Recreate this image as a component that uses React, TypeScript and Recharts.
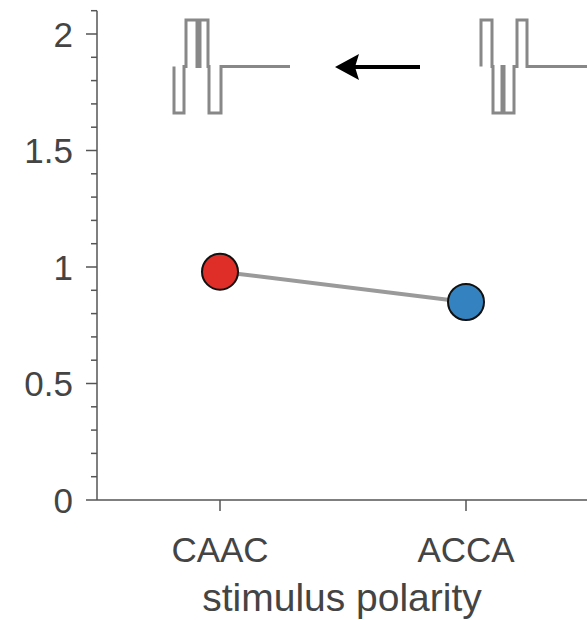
import { ComposedChart, LineChart, Line, XAxis, YAxis } from "recharts";

const polarities = ["CAAC", "ACCA"];
const ratio = [0.98, 0.85];

const yTicks = [0, 0.1, 0.2, 0.3, 0.4, 0.5, 0.6, 0.7, 0.8, 0.9, 1, 1.1, 1.2, 1.3, 1.4, 1.5, 1.6, 1.7, 1.8, 1.9, 2, 2.1];
const yLabels = [0, 0.5, 1, 1.5, 2];

// stimulus waveform sketches: time (arb. units) and phase sign
const caacTime = [0, 0, 10, 10, 12, 12, 23, 23, 26, 26, 34, 34, 35, 35, 47, 47, 116];
const caacLevel = [0, -1, -1, 0, 0, 1, 1, 0, 0, 1, 1, 0, 0, -1, -1, 0, 0];
const accaTime = [0, 0, 11, 11, 12, 12, 21, 21, 23, 23, 33, 33, 36, 36, 46, 46, 110];
const accaLevel = [0, 1, 1, 0, 0, -1, -1, 0, 0, -1, -1, 0, 0, 1, 1, 0, 0];

const dotColors = ["#df2e28", "#3483c0"];
const axisColor = "#555";
const textColor = "#444";

const data = polarities.map((p, i) => ({ polarity: p, ratio: ratio[i] }));
const caacData = caacTime.map((t, i) => ({ t, v: caacLevel[i] }));
const accaData = accaTime.map((t, i) => ({ t, v: accaLevel[i] }));

const YTick = (props: any) => {
  const { x, y, payload } = props;
  const major = yLabels.includes(payload.value);
  return (
    <g>
      <line x1={x - (major ? 11 : 6)} x2={x} y1={y} y2={y} stroke={axisColor} strokeWidth={1.5} />
      {major && (
        <text x={x - 24} y={y} dy="0.36em" textAnchor="end" fontSize={35} fill={textColor}>
          {payload.value}
        </text>
      )}
    </g>
  );
};

const Dot = (props: any) => {
  const { cx, cy, index } = props;
  return <circle key={index} cx={cx} cy={cy} r={18} fill={dotColors[index]} stroke="#111" strokeWidth={2} />;
};

const Waveform = ({ points, left, span }: { points: { t: number; v: number }[]; left: number; span: number }) => (
  <div style={{ position: "absolute", left: left - 3, top: 17 }}>
    <LineChart width={span + 6} height={99} data={points} margin={{ top: 3, right: 3, bottom: 3, left: 3 }}>
      <XAxis type="number" dataKey="t" domain={[0, span]} hide />
      <YAxis domain={[-1, 1]} hide />
      <Line type="linear" dataKey="v" stroke="#888" strokeWidth={3} dot={false} isAnimationActive={false} />
    </LineChart>
  </div>
);

export default function App() {
  return (
    <div
      style={{
        position: "absolute",
        left: 0,
        top: 0,
        width: 587,
        height: 620,
        overflow: "hidden",
        background: "#fff",
        fontFamily: "'Liberation Sans', Arial, sans-serif",
      }}
    >
      <ComposedChart width={587} height={620} data={data} margin={{ top: 10.7, right: 0, bottom: 0, left: 0 }}>
        <XAxis
          dataKey="polarity"
          height={120}
          padding={{ left: 123, right: 121 }}
          tickSize={11}
          tickMargin={26}
          tick={{ fontSize: 35, fill: textColor }}
          axisLine={{ stroke: axisColor, strokeWidth: 1.5 }}
          tickLine={{ stroke: axisColor, strokeWidth: 1.5 }}
          label={{ value: "stimulus polarity", position: "insideBottom", offset: 9, fontSize: 39, fill: textColor }}
        />
        <YAxis
          width={97}
          domain={[0, 2.1]}
          ticks={yTicks}
          interval={0}
          tickSize={0}
          tickMargin={0}
          tickLine={false}
          tick={<YTick />}
          axisLine={{ stroke: axisColor, strokeWidth: 1.5 }}
        />
        <Line
          dataKey="ratio"
          stroke="#9a9a9a"
          strokeWidth={4}
          dot={<Dot />}
          activeDot={false}
          isAnimationActive={false}
        />
      </ComposedChart>
      <Waveform points={caacData} left={174} span={116} />
      <Waveform points={accaData} left={481} span={110} />
      <svg style={{ position: "absolute", left: 330, top: 50 }} width={95} height={34}>
        <line x1={22} y1={17} x2={90} y2={17} stroke="#000" strokeWidth={4} />
        <polygon points="5,17 29,4 25,17 29,30" fill="#000" />
      </svg>
    </div>
  );
}
